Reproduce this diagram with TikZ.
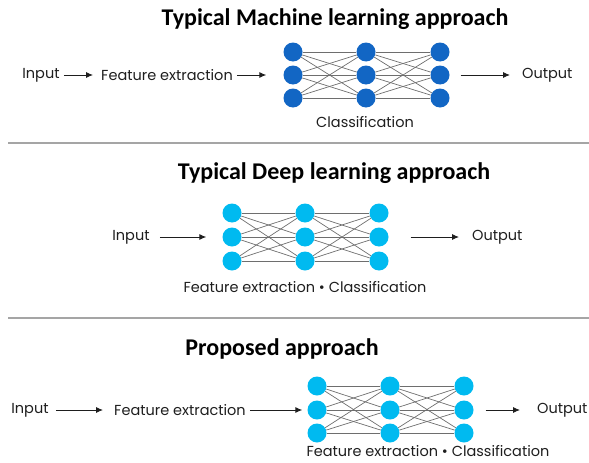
\documentclass[tikz,border=0pt]{standalone}
\usepackage{fontspec}
\setmainfont{Poppins}
\newfontfamily\titlefont{Carlito}
\usetikzlibrary{arrows.meta}
\definecolor{darkblue}{RGB}{18,102,196}
\definecolor{cyanblue}{RGB}{0,186,240}
\definecolor{txt}{RGB}{30,30,30}
\definecolor{rulegray}{RGB}{165,165,165}
\definecolor{edgegray}{RGB}{110,110,110}
\tikzset{
  titletext/.style={font=\titlefont\bfseries\fontsize{24}{26}\selectfont, text=black, inner sep=0pt},
  bodytext/.style={font=\fontsize{14.5}{16}\selectfont, text=txt, inner sep=2pt},
  neuronA/.style={circle, fill=darkblue, minimum size=19pt, inner sep=0pt},
  neuronB/.style={circle, fill=cyanblue, minimum size=19pt, inner sep=0pt},
  link/.style={draw=edgegray, line width=0.7pt},
  flow/.style={draw=txt, line width=0.9pt, -{Latex[length=7pt,width=6pt]}},
  sep/.style={draw=rulegray, line width=2.5pt}
}
\begin{document}
\begin{tikzpicture}[x=1pt,y=-1pt]
\useasboundingbox (0,0) rectangle (589,463);
% ---------- Section 1 ----------
\node[titletext] (t1) at (335,19) {Typical Machine learning approach};
\foreach \c/\x in {1/293,2/366,3/440}{
  \foreach \r/\y in {1/52,2/75,3/98}{
    \node[neuronA] (a\c\r) at (\x,\y) {};
  }
}
\foreach \c/\d in {1/2,2/3}{
  \foreach \r in {1,2,3}{
    \foreach \s in {1,2,3}{
      \draw[link] (a\c\r) -- (a\d\s);
    }
  }
}
\node[bodytext] (in1) at (41,75) {Input};
\node[bodytext] (fe1) at (167,75) {Feature extraction};
\node[bodytext, anchor=west] (out1) at (520,75) {Output};
\node[bodytext] (cl1) at (365,122) {Classification};
\draw[flow, shorten <=2pt, shorten >=6pt] (in1) -- (fe1);
\draw[flow, shorten <=2pt, shorten >=17pt] (fe1) -- (a12);
\draw[flow, shorten <=11pt, shorten >=10pt] (a32) -- (out1);
\coordinate (l1a) at (8,143);
\coordinate (l1b) at (589,143);
\draw[sep] (l1a) -- (l1b);
% ---------- Section 2 ----------
\node[titletext] (t2) at (334,173) {Typical Deep learning approach};
\foreach \c/\x in {1/232,2/305,3/379}{
  \foreach \r/\y in {1/213,2/237,3/261}{
    \node[neuronB] (b\c\r) at (\x,\y) {};
  }
}
\foreach \c/\d in {1/2,2/3}{
  \foreach \r in {1,2,3}{
    \foreach \s in {1,2,3}{
      \draw[link] (b\c\r) -- (b\d\s);
    }
  }
}
\node[bodytext] (in2) at (131,237) {Input};
\node[bodytext, anchor=west] (out2) at (470,237) {Output};
\node[bodytext] (cl2) at (305,287) {Feature extraction • Classification};
\draw[flow, shorten <=8pt, shorten >=16pt] (in2) -- (b12);
\draw[flow, shorten <=22pt, shorten >=11pt] (b32) -- (out2);
\coordinate (l2a) at (8,318);
\coordinate (l2b) at (589,318);
\draw[sep] (l2a) -- (l2b);
% ---------- Section 3 ----------
\node[titletext] (t3) at (282,349) {Proposed approach};
\foreach \c/\x in {1/317,2/390,3/464}{
  \foreach \r/\y in {1/386,2/410,3/433}{
    \node[neuronB] (p\c\r) at (\x,\y) {};
  }
}
\foreach \c/\d in {1/2,2/3}{
  \foreach \r in {1,2,3}{
    \foreach \s in {1,2,3}{
      \draw[link] (p\c\r) -- (p\d\s);
    }
  }
}
\node[bodytext] (in3) at (30,410) {Input};
\node[bodytext] (fe3) at (180,410) {Feature extraction};
\node[bodytext, anchor=west] (out3) at (535,410) {Output};
\node[bodytext] (cl3) at (428,451) {Feature extraction • Classification};
\draw[flow, shorten <=5pt, shorten >=9pt] (in3) -- (fe3);
\draw[flow, shorten <=2pt, shorten >=5pt] (fe3) -- (p12);
\draw[flow, shorten <=12pt, shorten >=15pt] (p32) -- (out3);
\end{tikzpicture}
\end{document}
